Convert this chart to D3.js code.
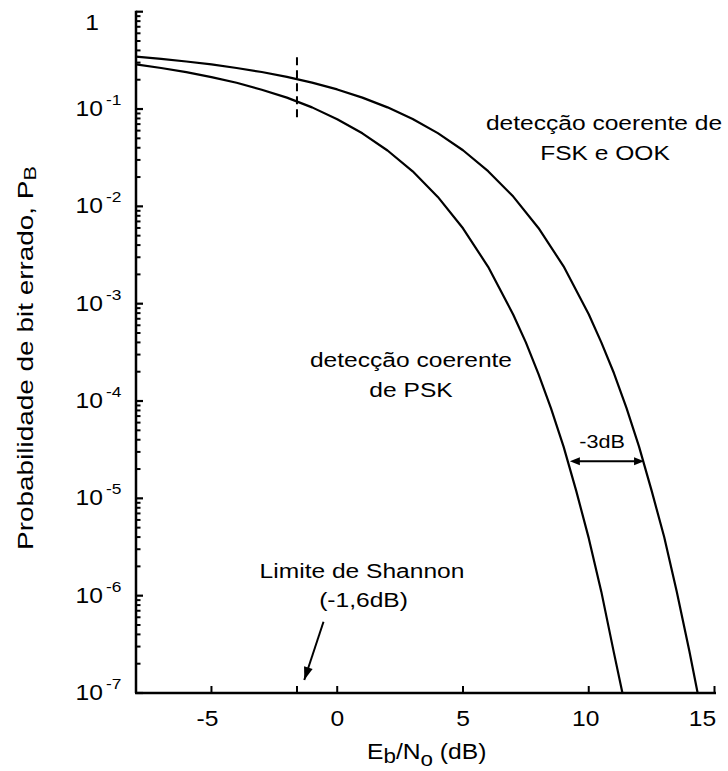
<!DOCTYPE html>
<html><head><meta charset="utf-8">
<script src="https://cdn.jsdelivr.net/npm/d3@7"></script>
<style>
body{margin:0;background:#fff}
text{font-family:"Liberation Sans",Arial,Helvetica,sans-serif;fill:#000}
</style>
</head><body>
<svg id="chart" width="728" height="771"></svg>
<script>
// ---- data ----
const ebn0PSK = [-8,-7,-6,-5,-4,-3,-2,-1,0,1,2,3,4,5,6,7,7.5,8,8.5,9,9.5,10,10.5,11,11.34];
const pbPSK   = [0.287,0.264,0.239,0.213,0.186,0.158,0.131,0.104,0.0786,0.0563,0.0375,0.0229,0.0125,0.00595,0.00239,7.7e-4,4.0e-4,1.9e-4,8.4e-5,3.4e-5,1.2e-5,3.9e-6,1.1e-6,2.6e-7,1e-7];
const ebn0FSK = [-8,-7,-6,-5,-4,-3,-2,-1,0,1,2,3,4,5,6,7,8,9,10,10.5,11,11.5,12,12.5,13,13.5,14,14.33];
const pbFSK   = [0.345,0.328,0.308,0.287,0.264,0.240,0.214,0.187,0.159,0.131,0.104,0.0789,0.0565,0.0377,0.0230,0.0126,0.0060,0.00242,7.8e-4,4.0e-4,1.94e-4,8.5e-5,3.4e-5,1.2e-5,4.0e-6,1.1e-6,2.7e-7,1e-7];
const xTicks = [-5,0,5,10,15];
const xTickLabels = ["-5","0","5","10","15"];
const yExponents = [0,-1,-2,-3,-4,-5,-6,-7];
const yMantissas = [2,3,4,5,6,7,8,9];
const shannonLimit = -1.6;
const shannonDashPb = [0.34, 0.076];
const shannonArrowDb = [-0.545, -1.31];
const shannonArrowPb = [5.4e-7, 1.36e-7];
const gapArrowDb = [9.25, 12.2];
const gapArrowPb = 2.4e-5;
const labelFSK = ["detecção coerente de", "FSK e OOK"];
const labelPSK = ["detecção coerente", "de PSK"];
const labelShannon = ["Limite de Shannon", "(-1,6dB)"];
const labelGap = "-3dB";

// ---- drawing ----
const svg = d3.select("#chart");
const x = d3.scaleLinear().domain([-8, 15]).range([136, 714.5]);
const y = d3.scaleLog().domain([1e-7, 1]).range([693, 11.7]);
const SX = 1.12;

function txt(px, py, str, fs, anchor, sx) {
  return svg.append("text")
    .attr("transform", `translate(${px},${py}) scale(${sx||SX},1)`)
    .attr("text-anchor", anchor || "middle")
    .style("font-size", fs + "px")
    .text(str);
}

// curves
const line = d3.line().x(d => x(d[0])).y(d => y(d[1]));
svg.append("path").datum(ebn0PSK.map((v,i)=>[v,pbPSK[i]]))
  .attr("d", line).attr("fill","none").attr("stroke","#000").attr("stroke-width",2.2).attr("stroke-linejoin","round");
svg.append("path").datum(ebn0FSK.map((v,i)=>[v,pbFSK[i]]))
  .attr("d", line).attr("fill","none").attr("stroke","#000").attr("stroke-width",2.2).attr("stroke-linejoin","round");

// axes lines
svg.append("line").attr("x1",x(-8)).attr("x2",x(-8)).attr("y1",y(1)-1).attr("y2",y(1e-7))
  .attr("stroke","#000").attr("stroke-width",2.5);
svg.append("line").attr("x1",x(-8)-1).attr("x2",x(15)+1.5).attr("y1",y(1e-7)).attr("y2",y(1e-7))
  .attr("stroke","#000").attr("stroke-width",2.5);

// x ticks (inward)
const xtickVals = xTicks.concat([shannonLimit]);
svg.selectAll(".xt").data(xtickVals).enter().append("line")
  .attr("x1",d=>x(d)).attr("x2",d=>x(d)).attr("y1",y(1e-7)).attr("y2",y(1e-7)-7)
  .attr("stroke","#000").attr("stroke-width",2);
const xLabelShift = {"-5":-4, "0":0, "5":0, "10":-3, "15":-12};
xTicks.forEach((t,i) => {
  txt(x(t) + xLabelShift[xTickLabels[i]], 726, xTickLabels[i], 22, "middle");
});

// y ticks
yExponents.forEach(e => {
  const v = Math.pow(10, e);
  svg.append("line").attr("x1",x(-8)).attr("x2",x(-8)+7).attr("y1",y(v)).attr("y2",y(v))
    .attr("stroke","#000").attr("stroke-width",2.2);
  if (e === 0) {
    txt(99, 30, "1", 22, "end");
  } else {
    txt(103, y(v)+7, "10", 22, "end");
    txt(106, y(v)-4, String(e), 15.5, "start");
  }
  if (e > -7) {
    yMantissas.forEach(m => {
      const mv = m * Math.pow(10, e - 1);
      svg.append("line").attr("x1",x(-8)).attr("x2",x(-8)+4.5).attr("y1",y(mv)).attr("y2",y(mv))
        .attr("stroke","#000").attr("stroke-width",2);
    });
  }
});

// axis titles
const xt = svg.append("text")
  .attr("transform", `translate(367,759) scale(${SX},1)`)
  .attr("text-anchor","start").style("font-size","22px");
xt.append("tspan").text("E");
xt.append("tspan").attr("dy",4).style("font-size","20px").text("b");
xt.append("tspan").attr("dy",-4).text("/N");
xt.append("tspan").attr("dy",7).style("font-size","20px").text("o");
xt.append("tspan").attr("dy",-7).text(" (dB)");

const yt = svg.append("text")
  .attr("transform", "translate(33,358) rotate(-90) scale(1.27,1)")
  .attr("text-anchor","middle").style("font-size","22px");
yt.append("tspan").text("Probabilidade de bit errado, P");
yt.append("tspan").attr("dy",3).style("font-size","17px").text("B");

// Shannon dashed line
svg.append("line").attr("x1",x(shannonLimit)).attr("x2",x(shannonLimit))
  .attr("y1",y(shannonDashPb[0])).attr("y2",y(shannonDashPb[1]))
  .attr("stroke","#000").attr("stroke-width",2).attr("stroke-dasharray","8,5");

// arrow helper
function arrowHead(x0,y0,x1,y1,len,half){
  const a = Math.atan2(y1-y0, x1-x0);
  const bx = x1 - len*Math.cos(a), by = y1 - len*Math.sin(a);
  const px = -Math.sin(a)*half, py = Math.cos(a)*half;
  svg.append("path").attr("d",`M${x1},${y1}L${bx+px},${by+py}L${bx-px},${by-py}Z`).attr("fill","#000");
}

// Shannon arrow
{
  const x0 = x(shannonArrowDb[0]), y0 = y(shannonArrowPb[0]);
  const x1 = x(shannonArrowDb[1]), y1 = y(shannonArrowPb[1]);
  svg.append("line").attr("x1",x0).attr("y1",y0).attr("x2",x1).attr("y2",y1)
    .attr("stroke","#000").attr("stroke-width",2);
  arrowHead(x0,y0,x1,y1,13,4.5);
}
txt(362, 578, labelShannon[0], 21, "middle", 1.17);
txt(363.5, 607, labelShannon[1], 21, "middle", 1.17);

// -3dB arrow
{
  const x0 = x(gapArrowDb[0]), x1 = x(gapArrowDb[1]), yy = y(gapArrowPb);
  svg.append("line").attr("x1",x0+4).attr("x2",x1-4).attr("y1",yy).attr("y2",yy)
    .attr("stroke","#000").attr("stroke-width",2);
  arrowHead(x1,yy,x0,yy,10,4);
  arrowHead(x0,yy,x1,yy,10,4);
}
txt(602, 448, labelGap, 18, "middle", 1.2);

// curve labels
txt(604, 130, labelFSK[0], 21, "middle", 1.17);
txt(605, 160, labelFSK[1], 21, "middle", 1.17);
txt(411, 367, labelPSK[0], 21, "middle", 1.17);
txt(411, 397, labelPSK[1], 21, "middle", 1.17);
</script>
</body></html>
